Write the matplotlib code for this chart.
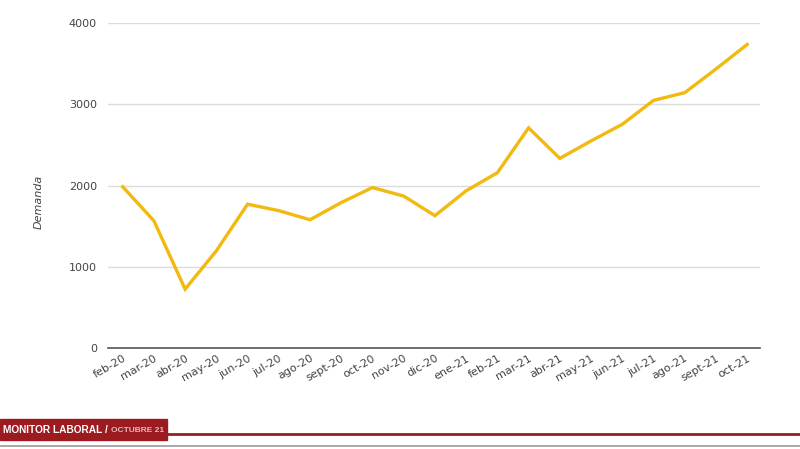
import matplotlib.pyplot as plt
import matplotlib.patches as patches

# datos
meses = ["feb-20", "mar-20", "abr-20", "may-20", "jun-20", "jul-20", "ago-20",
         "sept-20", "oct-20", "nov-20", "dic-20", "ene-21", "feb-21", "mar-21",
         "abr-21", "may-21", "jun-21", "jul-21", "ago-21", "sept-21", "oct-21"]
demanda = [1985, 1565, 722, 1195, 1770, 1690, 1578, 1790, 1975, 1870, 1628,
           1935, 2158, 2711, 2335, 2550, 2755, 3050, 3145, 3437, 3740]
y_ticks = [0, 1000, 2000, 3000, 4000]

fig = plt.figure(figsize=(8, 4.49), dpi=100)
ax = fig.add_axes([0.135, 0.2256, 0.815, 0.7224])

ax.plot(range(len(meses)), demanda, color="#f2b90f", linewidth=2.4,
        solid_joinstyle="miter", zorder=3)

ax.set_xlim(-0.47, len(meses) - 1 + 0.41)
ax.set_ylim(0, 4000)
ax.set_yticks(y_ticks)
ax.set_yticklabels([str(v) for v in y_ticks])
ax.set_xticks(range(len(meses)))
ax.set_xticklabels(meses, rotation=30, ha="right", rotation_mode="anchor")

ax.grid(axis="y", color="#dcdcdc", linewidth=1)
ax.set_axisbelow(True)
for s in ["top", "right", "left"]:
    ax.spines[s].set_visible(False)
ax.spines["bottom"].set_color("#555555")
ax.spines["bottom"].set_linewidth(1.2)
ax.tick_params(axis="both", length=0, colors="#444444", labelsize=8)
ax.tick_params(axis="y", pad=8)
ax.tick_params(axis="x", pad=4)
ax.set_ylabel("Demanda", style="italic", color="#444444", fontsize=8)
ax.yaxis.set_label_coords(-0.098, 0.45)

# banda inferior
fig.add_artist(patches.Rectangle((0, 1 - 440 / 449), 167 / 800, 21 / 449,
                                 transform=fig.transFigure, color="#9b1b20"))
fig.add_artist(plt.Line2D([167 / 800, 1], [1 - 433.5 / 449] * 2,
                          transform=fig.transFigure, color="#9b1b20", linewidth=2))
fig.add_artist(plt.Line2D([0, 1], [1 - 446 / 449] * 2,
                          transform=fig.transFigure, color="#9a9a9a", linewidth=1.2))
banner_font = ["Liberation Sans", "DejaVu Sans"]
t = fig.text(3 / 800, 1 - 430 / 449, "MONITOR LABORAL / ", color="white",
             fontsize=7.3, fontweight="bold", va="center", family=banner_font)
fig.canvas.draw()
bb = t.get_window_extent()
fig.text(bb.x1 / 800, 1 - 430.5 / 449, "OCTUBRE 21", color="#e8b8bb",
         fontsize=6, fontweight="bold", va="center", family=banner_font)

fig.savefig("out.png", dpi=100)
